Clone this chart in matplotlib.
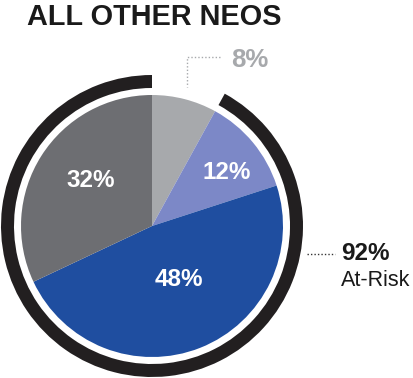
import matplotlib
matplotlib.use("Agg")
import matplotlib.pyplot as plt

title = "ALL OTHER NEOS"
slice_labels = ["8%", "12%", "48%", "32%"]
slice_values = [8, 12, 48, 32]
slice_colors = ["#a7a9ac", "#7c88c7", "#1f4ea0", "#6d6e72"]
risk_value = 92
risk_label = "92%"
risk_text = "At-Risk"

H = 378
fig = plt.figure(figsize=(4.14, 3.78), dpi=100)
ax = fig.add_axes([0, 0, 1, 1])

cx, cy, r = 152, H - 226, 131

ax.pie(slice_values, colors=slice_colors, startangle=90, counterclock=False,
       radius=r, center=(cx, cy), frame=True,
       wedgeprops=dict(linewidth=0))

# outer at-risk ring
ax.pie([100 - risk_value, risk_value], colors=["none", "#221f20"], startangle=90,
       counterclock=False, radius=151, center=(cx, cy), frame=True,
       wedgeprops=dict(width=13, linewidth=0))
ax.set_xlim(0, 414)
ax.set_ylim(0, H)
ax.set_aspect("equal")
ax.axis("off")

fn = "Liberation Sans"
ax.text(27, H - 25, title, fontsize=20.8, fontweight="bold", family=fn,
        color="#1a1a1a", ha="left", va="baseline")

label_pos = [(250, 60), (227, 172), (179, 280), (91, 180)]
label_colors = ["#a7a9ac", "white", "white", "white"]
label_sizes = [18.5, 17.5, 17.5, 17.5]
for lab, (x, y), c, s in zip(slice_labels, label_pos, label_colors, label_sizes):
    ax.text(x, H - y, lab, fontsize=s, fontweight="bold", family=fn, color=c,
            ha="center", va="center")

# leader for 8%
ax.plot([220, 187, 187], [H - 57, H - 57, H - 87], color="#a7a9ac", lw=1,
        linestyle=(0, (1, 1.5)))
# leader for 92%
ax.plot([307, 335], [H - 254, H - 254], color="#333333", lw=1,
        linestyle=(0, (1, 1.5)))

ax.text(341, H - 254, risk_label, fontsize=17.5, fontweight="bold", family=fn,
        color="#1a1a1a", ha="left", va="center")
ax.text(341, H - 281, risk_text, fontsize=15.5, family=fn,
        color="#1a1a1a", ha="left", va="center")

fig.savefig("out.png", dpi=100)
